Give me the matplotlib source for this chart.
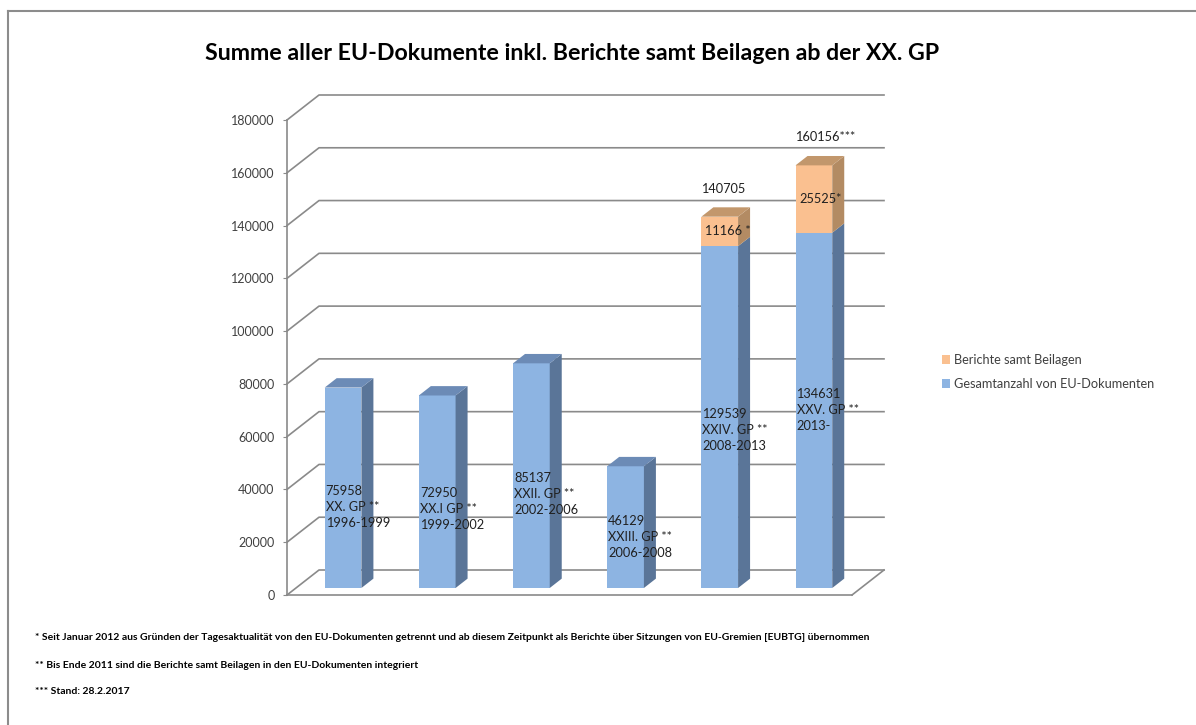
import matplotlib
matplotlib.use("Agg")
import matplotlib.pyplot as plt
from matplotlib.patches import Polygon, Patch
from matplotlib.lines import Line2D
from matplotlib.transforms import IdentityTransform, Affine2D

plt.rcParams['font.family'] = ['Lato', 'DejaVu Sans']

# ---------------- data ----------------
gp_names = ['XX. GP **', 'XX.I GP **', 'XXII. GP **', 'XXIII. GP **', 'XXIV. GP **', 'XXV. GP **']
periods = ['1996-1999', '1999-2002', '2002-2006', '2006-2008', '2008-2013', '2013-']
eu_docs = [75958, 72950, 85137, 46129, 129539, 134631]
berichte = [0, 0, 0, 0, 11166, 25525]
berichte_labels = ['', '', '', '', '11166 *', '25525*']
total_suffix = ['', '', '', '', '', '***']
yticks = [0, 20000, 40000, 60000, 80000, 100000, 120000, 140000, 160000, 180000]

series_names = ['Berichte samt Beilagen', 'Gesamtanzahl von EU-Dokumenten']
title = 'Summe aller EU-Dokumente inkl. Berichte samt Beilagen ab der XX. GP'
footnotes = [
    '* Seit Januar 2012 aus Gründen der Tagesaktualität von den EU-Dokumenten getrennt und ab diesem Zeitpunkt als Berichte über Sitzungen von EU-Gremien [EUBTG] übernommen',
    '** Bis Ende 2011 sind die Berichte samt Beilagen in den EU-Dokumenten integriert',
    '*** Stand: 28.2.2017',
]

# ---------------- style / layout ----------------
W, H = 1196, 725
blue_front, blue_side, blue_top = '#8DB4E2', '#5A7598', '#6C8BB6'
orng_front, orng_side, orng_top = '#FAC090', '#B38B63', '#C2976C'
grid_c = '#8A8A8A'
txt_c = '#404040'
DX, DY = 32.0, 25.0          # full depth of the 3D box in pixels
F0, F1 = 0.28, 0.655         # bar depth range (fraction of box depth)
bar_w = 0.39
label_dy = [-19, -17, -18, -10, -13, 0]   # pixel shift of in-bar labels

fig = plt.figure(figsize=(W / 100, H / 100), dpi=100)
ax = fig.add_axes([287 / W, (H - 595) / H, 565 / W, 475 / H])
ax.set_xlim(-0.5, len(eu_docs) - 0.5)
ax.set_ylim(0, 180000)
ax.set_facecolor('none')
for s in ['top', 'right']:
    ax.spines[s].set_visible(False)
for s in ['left', 'bottom']:
    ax.spines[s].set_color(grid_c)
    ax.spines[s].set_linewidth(1.2)
ax.set_xticks([])
ax.set_yticks(yticks)
ax.set_yticklabels([str(v) for v in yticks], fontsize=9, color=txt_c)
ax.tick_params(axis='y', length=3, color=grid_c, pad=6)

ID = IdentityTransform()


def px(x, y, f):
    X, Y = ax.transData.transform((x, y))
    return (X + f * DX, Y + f * DY)


def shifted(dx, dy):
    return ax.transData + Affine2D().translate(dx, dy)


xmin, xmax = ax.get_xlim()
# back wall grid lines + left wall slants
for v in yticks:
    p0 = px(xmin, v, 0)
    p1 = px(xmin, v, 1)
    p2 = px(xmax, v, 1)
    ax.add_line(Line2D([p0[0], p1[0], p2[0]], [p0[1], p1[1], p2[1]], color=grid_c,
                       lw=1.2, transform=ID, clip_on=False, zorder=1))
# floor right edge
q0, q1 = px(xmax, 0, 0), px(xmax, 0, 1)
ax.add_line(Line2D([q0[0], q1[0]], [q0[1], q1[1]], color=grid_c, lw=1.2,
                   transform=ID, clip_on=False, zorder=1))


def draw_segment(x, b, t, cf, cs, ct, top):
    l, r = x - bar_w / 2, x + bar_w / 2
    ax.bar([x], [t - b], width=bar_w, bottom=[b], color=cf, linewidth=0,
           transform=shifted(F0 * DX, F0 * DY), zorder=3, clip_on=False)
    side = [px(r, b, F0), px(r, b, F1), px(r, t, F1), px(r, t, F0)]
    ax.add_patch(Polygon(side, closed=True, facecolor=cs, edgecolor='none',
                         transform=ID, zorder=3, clip_on=False))
    if top:
        tp = [px(l, t, F0), px(r, t, F0), px(r, t, F1), px(l, t, F1)]
        ax.add_patch(Polygon(tp, closed=True, facecolor=ct, edgecolor='none',
                             transform=ID, zorder=3, clip_on=False))


for i, (e, b) in enumerate(zip(eu_docs, berichte)):
    draw_segment(i, 0, e, blue_front, blue_side, blue_top, top=(b == 0))
    left = i - bar_w / 2
    ax.text(left, e / 2, f'{e}\n{gp_names[i]}\n{periods[i]}', fontsize=9.2,
            color='#202020', ha='left', va='center', linespacing=1.4,
            transform=shifted(F0 * DX + 1, F0 * DY + label_dy[i]), zorder=5)
    if b > 0:
        draw_segment(i, e, e + b, orng_front, orng_side, orng_top, top=True)
        ax.text(left, e + b / 2, berichte_labels[i], fontsize=9.2, color='#202020',
                ha='left', va='center',
                transform=shifted(F0 * DX + 4, F0 * DY), zorder=5)
        ax.text(left, e + b, f'{e + b}{total_suffix[i]}', fontsize=9.2, color='#202020',
                ha='left', va='center',
                transform=shifted(F0 * DX, F0 * DY + 28), zorder=5)

# legend
handles = [Patch(facecolor=orng_front, edgecolor='none'),
           Patch(facecolor=blue_front, edgecolor='none')]
fig.legend(handles, series_names, loc='center left',
           bbox_to_anchor=(930 / W, 1 - 372 / H), frameon=False, fontsize=9.2,
           handlelength=0.7, handleheight=0.7, handletextpad=0.3,
           labelspacing=0.9, labelcolor=txt_c)

# title
fig.text(572 / W, 1 - 53 / H, title, ha='center', va='center', fontsize=16.7,
         fontweight='bold', color='black')

# footnotes
for k, (t, y) in enumerate(zip(footnotes, [637, 665, 692])):
    fig.text(35 / W, 1 - y / H, t, ha='left', va='center', fontsize=7.5,
             fontweight='bold', color='black')

# outer border (left and top)
fig.add_artist(Line2D([8 / W, 8 / W], [0, 1 - 11 / H], color='#8C8C8C', lw=1.5,
                      transform=fig.transFigure))
fig.add_artist(Line2D([8 / W, 1], [1 - 11 / H, 1 - 11 / H], color='#8C8C8C', lw=1.5,
                      transform=fig.transFigure))

fig.savefig('out.png', dpi=100, facecolor='white')
